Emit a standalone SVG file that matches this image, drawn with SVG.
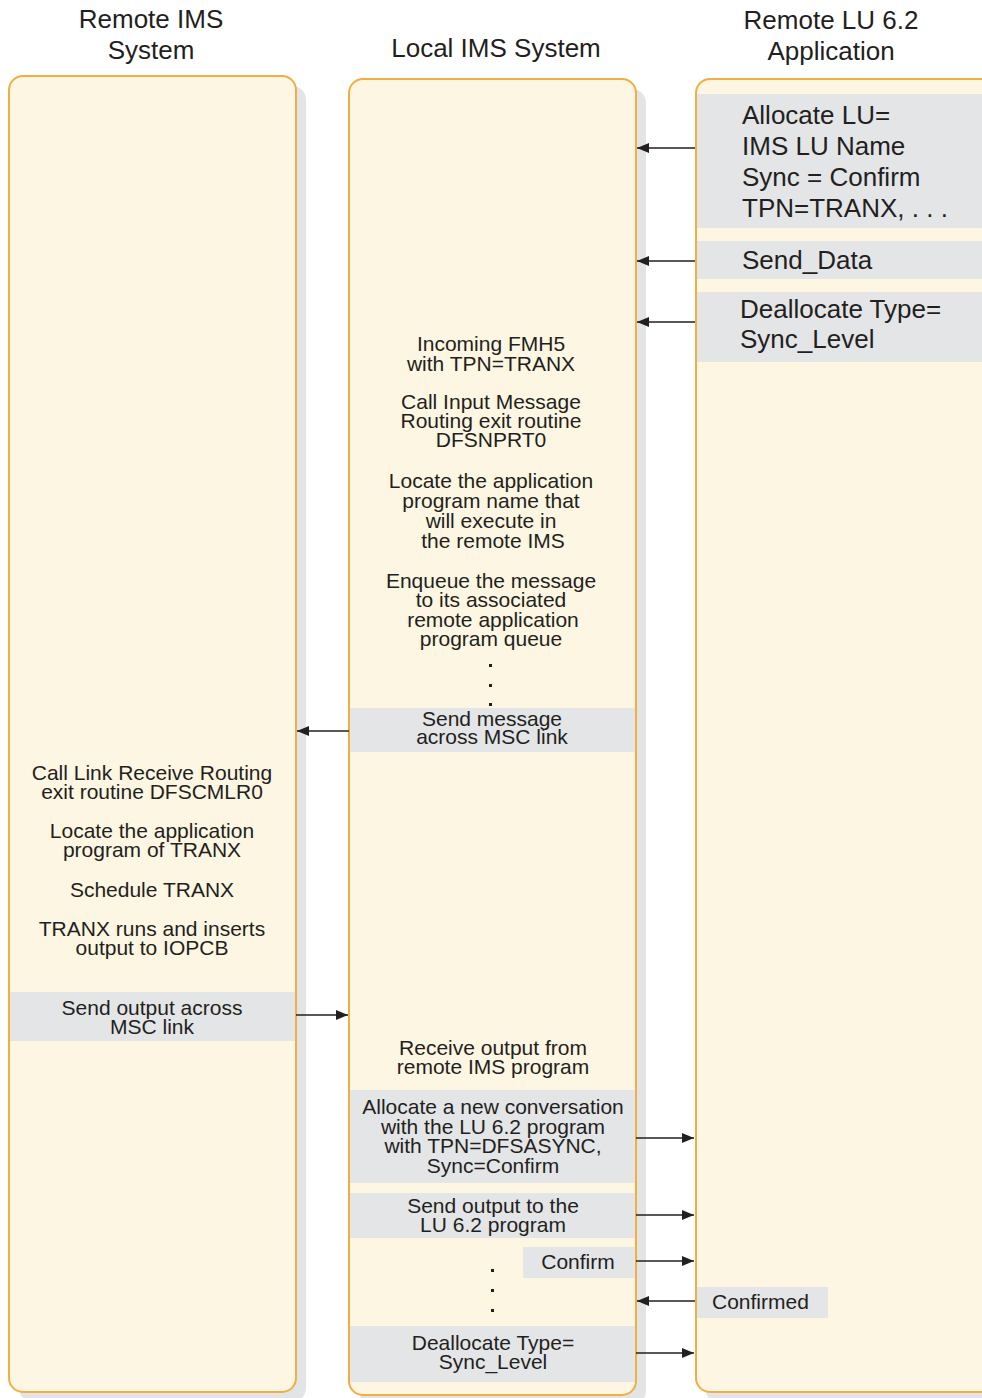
<svg xmlns="http://www.w3.org/2000/svg" width="982" height="1398" viewBox="0 0 982 1398">
<style>
.box{fill:#fdf6e2;stroke:#f0ae44;stroke-width:2}
.shadow{fill:#e3e4e6}
.band{fill:#e4e5e7}
text{font-family:"Liberation Sans",Arial,sans-serif;fill:#231f20}
.t{font-size:21px;text-anchor:middle}
.big{font-size:26px}
.title{font-size:26px;text-anchor:middle}
.c line{stroke:#231f20;stroke-width:1.6}
.dot{fill:#231f20}
</style>
<defs>
<marker id="ah" viewBox="0 0 12 10" refX="12" refY="5" markerWidth="12" markerHeight="10" markerUnits="userSpaceOnUse" orient="auto">
<path d="M0,0 L12,5 L0,10 Z" fill="#231f20"/>
</marker>
</defs>
<rect width="982" height="1398" fill="#ffffff"/>

<g id="titles">
<text class="title" x="151" y="28">Remote IMS</text>
<text class="title" x="151" y="59">System</text>
<text class="title" x="496" y="57">Local IMS System</text>
<text class="title" x="831" y="29">Remote LU 6.2</text>
<text class="title" x="831" y="60">Application</text>
</g>

<g id="remote-ims">
<rect class="shadow" x="19" y="86" width="287" height="1316" rx="14"/>
<rect class="box" x="9" y="76" width="287" height="1316" rx="14"/>
<text class="t" x="152" y="780">Call Link Receive Routing</text>
<text class="t" x="152" y="799">exit routine DFSCMLR0</text>
<text class="t" x="152" y="838">Locate the application</text>
<text class="t" x="152" y="857">program of TRANX</text>
<text class="t" x="152" y="897">Schedule TRANX</text>
<text class="t" x="152" y="936">TRANX runs and inserts</text>
<text class="t" x="152" y="955">output to IOPCB</text>
<rect class="band" x="10" y="992" width="285" height="49"/>
<text class="t" x="152" y="1015">Send output across</text>
<text class="t" x="152" y="1034">MSC link</text>
</g>

<g id="local-ims">
<rect class="shadow" x="359" y="89" width="287" height="1316" rx="14"/>
<rect class="box" x="349" y="79" width="287" height="1316" rx="14"/>
<text class="t" x="491" y="351">Incoming FMH5</text>
<text class="t" x="491" y="371">with TPN=TRANX</text>
<text class="t" x="491" y="409">Call Input Message</text>
<text class="t" x="491" y="428">Routing exit routine</text>
<text class="t" x="491" y="447">DFSNPRT0</text>
<text class="t" x="491" y="488">Locate the application</text>
<text class="t" x="491" y="508">program name that</text>
<text class="t" x="491" y="528">will execute  in</text>
<text class="t" x="493" y="548">the remote IMS</text>
<text class="t" x="491" y="588">Enqueue the message</text>
<text class="t" x="491" y="607">to its associated</text>
<text class="t" x="493" y="627">remote application</text>
<text class="t" x="491" y="646">program queue</text>
<rect class="dot" x="489" y="664" width="3" height="3"/>
<rect class="dot" x="489" y="684" width="3" height="3"/>
<rect class="dot" x="489" y="703" width="3" height="3"/>
<rect class="band" x="350" y="708" width="285" height="44"/>
<text class="t" x="492" y="726">Send message</text>
<text class="t" x="492" y="744">across MSC link</text>
<text class="t" x="493" y="1055">Receive output from</text>
<text class="t" x="493" y="1074">remote IMS program</text>
<rect class="band" x="350" y="1090" width="285" height="93"/>
<text class="t" x="493" y="1114">Allocate a new conversation</text>
<text class="t" x="493" y="1134">with the LU 6.2 program</text>
<text class="t" x="493" y="1153">with TPN=DFSASYNC,</text>
<text class="t" x="493" y="1173">Sync=Confirm</text>
<rect class="band" x="350" y="1193" width="285" height="45"/>
<text class="t" x="493" y="1213">Send output to the</text>
<text class="t" x="493" y="1232">LU 6.2 program</text>
<rect class="band" x="523" y="1247" width="112" height="31"/>
<text class="t" x="578" y="1269">Confirm</text>
<rect class="dot" x="491" y="1269" width="3" height="3"/>
<rect class="dot" x="491" y="1289" width="3" height="3"/>
<rect class="dot" x="491" y="1309" width="3" height="3"/>
<rect class="band" x="350" y="1326" width="285" height="56"/>
<text class="t" x="493" y="1350">Deallocate Type=</text>
<text class="t" x="493" y="1369">Sync_Level</text>
</g>

<g id="remote-lu62">
<rect class="shadow" x="705" y="89" width="290" height="1313" rx="14"/>
<rect class="box" x="696" y="79" width="300" height="1313" rx="14"/>
<rect class="band" x="697" y="94" width="285" height="134"/>
<text class="big" x="742" y="124">Allocate LU=</text>
<text class="big" x="742" y="155">IMS LU Name</text>
<text class="big" x="742" y="186">Sync = Confirm</text>
<text class="big" x="742" y="217">TPN=TRANX, . . .</text>
<rect class="band" x="697" y="241" width="285" height="38"/>
<text class="big" x="742" y="269">Send_Data</text>
<rect class="band" x="697" y="292" width="285" height="70"/>
<text class="big" x="740" y="318">Deallocate Type=</text>
<text class="big" x="740" y="348">Sync_Level</text>
<rect class="band" x="697" y="1287" width="131" height="31"/>
<text class="t" x="712" y="1309" style="text-anchor:start">Confirmed</text>
</g>

<g id="connectors" class="c">
<line x1="695" y1="148" x2="637" y2="148" marker-end="url(#ah)"/>
<line x1="695" y1="261" x2="637" y2="261" marker-end="url(#ah)"/>
<line x1="695" y1="322" x2="637" y2="322" marker-end="url(#ah)"/>
<line x1="349" y1="731" x2="297" y2="731" marker-end="url(#ah)"/>
<line x1="296" y1="1015" x2="348" y2="1015" marker-end="url(#ah)"/>
<line x1="636" y1="1138" x2="694" y2="1138" marker-end="url(#ah)"/>
<line x1="636" y1="1215" x2="694" y2="1215" marker-end="url(#ah)"/>
<line x1="636" y1="1261" x2="694" y2="1261" marker-end="url(#ah)"/>
<line x1="695" y1="1301" x2="637" y2="1301" marker-end="url(#ah)"/>
<line x1="636" y1="1353" x2="694" y2="1353" marker-end="url(#ah)"/>
</g>
</svg>
